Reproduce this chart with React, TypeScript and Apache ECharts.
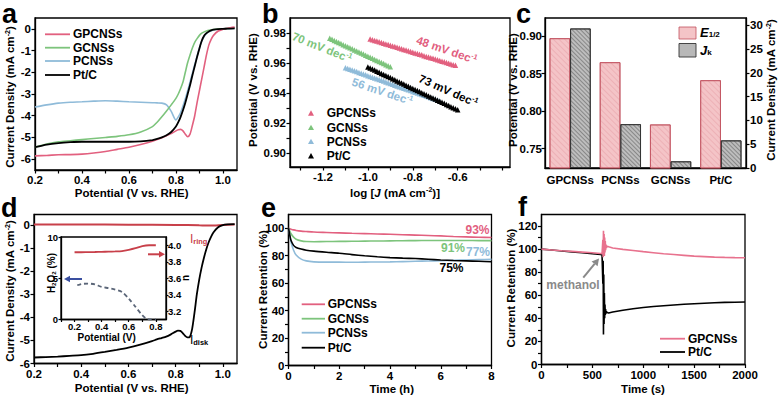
import React, { useEffect, useRef } from "react";
import * as echarts from "echarts";

const FONT = '"Liberation Sans", Arial, Helvetica, sans-serif';
const PINK = "#e2607f";
const GREEN = "#7dc47c";
const BLUE = "#8fbbd9";
const BLACK = "#000000";
const RED = "#c8404a";

// ---------- panel a: LSV ----------
const aPotential = [0.20,0.25,0.30,0.35,0.40,0.45,0.50,0.55,0.60,0.65,0.70,0.72,0.74,0.76,0.78,0.80,0.81,0.82,0.83,0.84,0.85,0.86,0.87,0.88,0.89,0.90,0.91,0.92,0.93,0.94,0.95,0.96,0.98,1.00,1.02,1.05];
const aGPCNSs = [-5.85,-5.83,-5.80,-5.79,-5.77,-5.72,-5.65,-5.55,-5.45,-5.33,-5.18,-5.10,-5.02,-4.92,-4.82,-4.70,-4.65,-4.63,-4.70,-4.85,-4.97,-4.85,-4.45,-4.00,-3.40,-2.85,-2.30,-1.75,-1.20,-0.75,-0.48,-0.30,-0.10,-0.02,0.03,0.08];
const aGCNSs = [-5.45,-5.30,-5.20,-5.15,-5.10,-5.05,-5.00,-4.95,-4.88,-4.75,-4.50,-4.30,-4.05,-3.78,-3.50,-3.20,-3.00,-2.75,-2.45,-2.00,-1.55,-1.20,-0.88,-0.62,-0.45,-0.30,-0.20,-0.14,-0.10,-0.07,-0.05,-0.03,-0.01,0.00,0.02,0.05];
const aPCNSs = [-3.60,-3.50,-3.42,-3.38,-3.36,-3.33,-3.31,-3.33,-3.36,-3.38,-3.40,-3.41,-3.42,-3.50,-3.80,-4.20,-4.05,-3.85,-3.55,-3.22,-2.85,-2.45,-2.05,-1.65,-1.25,-0.88,-0.56,-0.35,-0.22,-0.14,-0.09,-0.05,-0.02,0.00,0.01,0.02];
const aPtC = [-5.45,-5.33,-5.26,-5.22,-5.20,-5.20,-5.20,-5.20,-5.20,-5.18,-5.12,-5.07,-5.00,-4.90,-4.75,-4.50,-4.30,-4.05,-3.75,-3.40,-3.00,-2.60,-2.15,-1.72,-1.30,-0.90,-0.55,-0.32,-0.20,-0.12,-0.07,-0.04,-0.01,0.00,0.01,0.02];

// ---------- panel b: Tafel ----------
const bLogJ_GPCNSs = [-0.99,-0.98,-0.97,-0.96,-0.95,-0.94,-0.93,-0.92,-0.91,-0.90,-0.89,-0.88,-0.87,-0.86,-0.85,-0.84,-0.83,-0.82,-0.81,-0.80,-0.79,-0.78,-0.77,-0.76,-0.75,-0.74,-0.73,-0.72,-0.71,-0.70,-0.69,-0.68,-0.67,-0.66,-0.65,-0.64,-0.63,-0.62,-0.61];
const bE_GPCNSs = [0.9760,0.9756,0.9751,0.9747,0.9742,0.9737,0.9733,0.9728,0.9724,0.9719,0.9714,0.9710,0.9705,0.9701,0.9696,0.9691,0.9687,0.9682,0.9678,0.9673,0.9668,0.9664,0.9659,0.9655,0.9650,0.9645,0.9641,0.9636,0.9632,0.9627,0.9622,0.9618,0.9613,0.9609,0.9604,0.9599,0.9595,0.9590,0.9586];
const bLogJ_GCNSs = [-1.17,-1.16,-1.15,-1.14,-1.13,-1.12,-1.11,-1.10,-1.09,-1.08,-1.07,-1.06,-1.05,-1.04,-1.03,-1.02,-1.01,-1.00,-0.99,-0.98,-0.97,-0.96,-0.95,-0.94,-0.93,-0.92,-0.91,-0.90];
const bE_GCNSs = [0.9765,0.9758,0.9751,0.9744,0.9737,0.9730,0.9723,0.9716,0.9709,0.9702,0.9695,0.9688,0.9681,0.9674,0.9667,0.9660,0.9653,0.9646,0.9639,0.9632,0.9625,0.9618,0.9611,0.9604,0.9597,0.9590,0.9583,0.9576];
const bLogJ_PCNSs = [-1.10,-1.09,-1.08,-1.07,-1.06,-1.05,-1.04,-1.03,-1.02,-1.01,-1.00,-0.99,-0.98,-0.97,-0.96,-0.95,-0.94,-0.93,-0.92,-0.91,-0.90,-0.89,-0.88,-0.87,-0.86,-0.85,-0.84,-0.83,-0.82,-0.81,-0.80,-0.79,-0.78,-0.77,-0.76,-0.75,-0.74,-0.73,-0.72,-0.71,-0.70,-0.69,-0.68];
const bE_PCNSs = [0.9570,0.9565,0.9559,0.9554,0.9549,0.9544,0.9538,0.9533,0.9528,0.9523,0.9517,0.9512,0.9507,0.9502,0.9496,0.9491,0.9486,0.9481,0.9475,0.9470,0.9465,0.9460,0.9454,0.9449,0.9444,0.9439,0.9433,0.9428,0.9423,0.9418,0.9412,0.9407,0.9402,0.9397,0.9391,0.9386,0.9381,0.9376,0.9370,0.9365,0.9360,0.9355,0.9349];
const bLogJ_PtC = [-1.00,-0.99,-0.98,-0.97,-0.96,-0.95,-0.94,-0.93,-0.92,-0.91,-0.90,-0.89,-0.88,-0.87,-0.86,-0.85,-0.84,-0.83,-0.82,-0.81,-0.80,-0.79,-0.78,-0.77,-0.76,-0.75,-0.74,-0.73,-0.72,-0.71,-0.70,-0.69,-0.68,-0.67,-0.66,-0.65,-0.64,-0.63,-0.62,-0.61,-0.60];
const bE_PtC = [0.9575,0.9568,0.9561,0.9554,0.9546,0.9539,0.9532,0.9525,0.9518,0.9511,0.9504,0.9496,0.9489,0.9482,0.9475,0.9468,0.9461,0.9454,0.9447,0.9439,0.9432,0.9425,0.9418,0.9411,0.9404,0.9397,0.9390,0.9382,0.9375,0.9368,0.9361,0.9354,0.9347,0.9340,0.9333,0.9325,0.9318,0.9311,0.9304,0.9297,0.9290];

// ---------- panel c: bars ----------
const cCategories = ["GPCNSs", "PCNSs", "GCNSs", "Pt/C"];
const cE12 = [0.897, 0.865, 0.782, 0.841];
const cJk = [29.3, 9.2, 1.4, 5.8];

// ---------- panel d: RRDE ----------
const dDisk = [-5.74,-5.72,-5.70,-5.67,-5.64,-5.58,-5.50,-5.41,-5.31,-5.18,-5.03,-4.96,-4.90,-4.84,-4.74,-4.62,-4.58,-4.59,-4.68,-4.80,-4.87,-4.85,-4.50,-3.80,-3.00,-2.37,-1.85,-1.42,-1.05,-0.75,-0.52,-0.33,-0.10,-0.01,0.02,0.03];
const dRingPotential = [0.2, 0.4, 0.6, 0.8, 0.9, 0.95, 1.0, 1.05];
const dRing = [0.02, 0.02, 0.01, 0.0, -0.02, -0.03, 0.0, 0.02];
const insetNPotential = [0.2,0.25,0.3,0.35,0.4,0.45,0.5,0.55,0.6,0.65,0.7,0.75,0.8];
const insetN = [3.915,3.915,3.917,3.918,3.92,3.922,3.925,3.93,3.945,3.965,3.99,4.0,4.0];
const insetH2O2Potential = [0.22,0.25,0.3,0.35,0.4,0.45,0.5,0.55,0.6,0.65,0.7,0.73,0.76,0.8];
const insetH2O2 = [4.15,4.3,4.36,4.25,3.95,3.8,3.63,3.34,2.54,1.53,0.52,0.1,0.0,0.0];

// ---------- panel e: stability ----------
const eTime = [0,0.05,0.1,0.2,0.3,0.5,0.7,1,1.5,2,2.5,3,3.5,4,4.5,5,5.5,6,6.5,7,7.5,8];
const eGPCNSs = [100,99.6,99.3,98.8,98.4,97.9,97.6,97.2,96.9,96.6,96.3,96.1,95.8,95.6,95.3,95.0,94.7,94.4,94.0,93.7,93.4,93.2];
const eGCNSs = [100,98,96,93.5,92,90.8,90.3,90.2,90.3,90.4,90.5,90.6,90.7,90.8,90.9,91.0,91.1,91.1,91.1,91.1,91.0,91.0];
const ePCNSs = [100,95,90,84,80.5,77.5,76.2,75.5,75.3,75.3,75.2,75.3,75.4,75.5,75.7,75.9,76.1,76.3,76.6,76.9,77.1,77.3];
const ePtC = [100,95,91,87.5,86,84.8,84,83.3,82.5,81.8,80.8,79.9,79.2,78.6,78.2,77.9,77.4,76.9,76.5,76.2,75.9,75.6];

// ---------- panel f: methanol ----------
const fTime = [0,100,200,300,400,500,580,595,600,603,606,609,612,615,618,621,624,627,630,634,638,645,660,700,800,900,1000,1100,1200,1300,1400,1500,1600,1700,1800,1900,2000];
const fGPCNSs = [100,99.3,98.6,98,97.4,96.8,96.2,96,96,108,93,116,95,113,94,110,97,107,99,104,101,102.5,102,101,99.8,98.8,97.8,96.9,96,95.3,94.6,93.9,93.5,93.1,92.8,92.6,92.5];
const fPtC = [100,99.2,98.4,97.6,96.8,96,95.4,95,94.8,70,90,26,78,35,62,40,52,43,48,44,46,45,44.6,45.5,47,48.3,49.4,50.2,50.9,51.6,52.2,52.7,53.1,53.5,53.8,54,54.2];

// tick/label values
const aXLabels = [0.2, 0.4, 0.6, 0.8, 1.0];
const aXTicks = [0.2, 0.3, 0.4, 0.5, 0.6, 0.7, 0.8, 0.9, 1.0];
const aYLabels = [-6, -5, -4, -3, -2, -1, 0];
const bXLabels = [-1.2, -1.0, -0.8, -0.6];
const bXTicks = [-1.3, -1.2, -1.1, -1.0, -0.9, -0.8, -0.7, -0.6, -0.5, -0.4];
const bYLabels = [0.9, 0.92, 0.94, 0.96, 0.98];
const bYTicks = [0.9, 0.91, 0.92, 0.93, 0.94, 0.95, 0.96, 0.97, 0.98];
const cLeftLabels = [0.75, 0.8, 0.85, 0.9];
const cRightLabels = [0, 5, 10, 15, 20, 25, 30];
const insetXLabels = [0.2, 0.4, 0.6, 0.8];
const insetXTicks = [0.1, 0.2, 0.3, 0.4, 0.5, 0.6, 0.7, 0.8];
const insetLeftLabels = [0, 5, 10];
const insetRightLabels = [3.2, 3.4, 3.6, 3.8, 4.0];
const eXLabels = [0, 2, 4, 6, 8];
const eXTicks = [0, 1, 2, 3, 4, 5, 6, 7, 8];
const eYLabels = [0, 20, 40, 60, 80, 100];
const eYTicks = [0, 10, 20, 30, 40, 50, 60, 70, 80, 90, 100];
const fXLabels = [0, 500, 1000, 1500, 2000];
const fXTicks = [0, 250, 500, 750, 1000, 1250, 1500, 1750, 2000];
const fYLabels = [0, 20, 40, 60, 80, 100, 120];
const fYTicks = [0, 10, 20, 30, 40, 50, 60, 70, 80, 90, 100, 110, 120];

const zip = (xs: number[], ys: number[]) => xs.map((x, i) => [x, ys[i]]);

function valAxis(
  kind: "x" | "y",
  gridIndex: number,
  min: number,
  max: number,
  labels: number[],
  ticks: number[],
  fmt: (v: number) => string,
  opts: any = {}
) {
  const size = opts.size || 11.5;
  return {
    type: "value",
    gridIndex,
    min,
    max,
    position: opts.position || (kind === "x" ? "bottom" : "left"),
    axisLine: { show: true, onZero: false, lineStyle: { color: "#000", width: 1.3 } },
    axisTick: {
      show: true,
      inside: false,
      length: opts.tickLen || 3.5,
      customValues: ticks,
      lineStyle: { color: "#000", width: 1.2 },
    },
    axisLabel: {
      show: true,
      customValues: labels,
      formatter: (v: number) => fmt(v),
      color: "#000",
      fontFamily: FONT,
      fontWeight: "bold",
      fontSize: size,
      margin: opts.margin ?? 4,
    },
    splitLine: { show: false },
    minorTick: { show: false },
    minorSplitLine: { show: false },
  };
}

const f1 = (v: number) => v.toFixed(1);
const f2 = (v: number) => v.toFixed(2);
const f0 = (v: number) => String(Math.round(v));

function txt(x: number, y: number, s: string, o: any = {}) {
  const size = o.size || 11.5;
  const color = o.color || "#000";
  const align = o.align || "center";
  return {
    type: "text",
    x,
    y,
    rotation: o.rotation || 0,
    silent: true,
    z: 100,
    style: {
      text: s,
      fill: color,
      fontFamily: FONT,
      fontWeight: o.weight || "bold",
      fontStyle: o.italic ? "italic" : "normal",
      fontSize: size,
      align,
      textAlign: align,
      verticalAlign: "middle",
      textVerticalAlign: "middle",
      rich: {
        sup: { fontSize: size * 0.62, fontFamily: FONT, fontWeight: "bold", fill: color, color, verticalAlign: "top", lineHeight: size * 0.62 },
        sub: { fontSize: size * 0.62, fontFamily: FONT, fontWeight: "bold", fill: color, color, verticalAlign: "bottom", lineHeight: size * 0.62 },
        it: { fontSize: size, fontFamily: FONT, fontWeight: "bold", fontStyle: "italic", fill: color, color },
      },
    },
  };
}

function hline(x1: number, x2: number, y: number, color: string, w = 1.8) {
  return { type: "line", silent: true, z: 100, shape: { x1, y1: y, x2, y2: y }, style: { stroke: color, lineWidth: w } };
}

function arrow(x1: number, y1: number, x2: number, y2: number, color: string, w = 2, head = 6) {
  const ang = Math.atan2(y2 - y1, x2 - x1);
  const bx = x2 - head * Math.cos(ang);
  const by = y2 - head * Math.sin(ang);
  const px = -Math.sin(ang) * head * 0.55;
  const py = Math.cos(ang) * head * 0.55;
  return [
    { type: "line", silent: true, z: 100, shape: { x1, y1, x2: bx, y2: by }, style: { stroke: color, lineWidth: w } },
    {
      type: "polygon",
      silent: true,
      z: 100,
      shape: { points: [[x2, y2], [bx + px, by + py], [bx - px, by - py]] },
      style: { fill: color },
    },
  ];
}

function tri(x: number, y: number, color: string, s = 3) {
  return {
    type: "polygon",
    silent: true,
    z: 100,
    shape: { points: [[x, y - s], [x + s, y + s * 0.8], [x - s, y + s * 0.8]] },
    style: { fill: color },
  };
}

const lineSeries = (name: string, xi: number, yi: number, data: number[][], color: string, extra: any = {}) => ({
  type: "line",
  name,
  xAxisIndex: xi,
  yAxisIndex: yi,
  data,
  showSymbol: false,
  symbol: "none",
  smooth: extra.smooth ?? 0.25,
  clip: true,
  lineStyle: { color, width: extra.width || 1.6, type: extra.type || "solid" },
  itemStyle: { color },
  z: extra.z || 2,
});

const scatterSeries = (name: string, data: number[][], color: string) => ({
  type: "scatter",
  name,
  xAxisIndex: 1,
  yAxisIndex: 1,
  data,
  symbol: "triangle",
  symbolSize: 5.5,
  itemStyle: { color, opacity: 1 },
});

export default function App() {
  const ref = useRef<HTMLDivElement>(null);
  useEffect(() => {
    if (!ref.current) return;
    const chart = echarts.init(ref.current, null, { renderer: "svg" });

    const gridBase = { show: true, borderColor: "#000", borderWidth: 1.3, backgroundColor: "transparent", containLabel: false, outerBoundsMode: "none" };
    const grids = [
      { ...gridBase, left: 35, top: 18, width: 202, height: 152 }, // a
      { ...gridBase, left: 290, top: 18, width: 220, height: 149 }, // b
      { ...gridBase, left: 545, top: 18, width: 201, height: 150 }, // c
      { ...gridBase, left: 34, top: 214.5, width: 203, height: 149 }, // d
      { ...gridBase, left: 61, top: 237, width: 105, height: 82.5, backgroundColor: "#fff" }, // inset
      { ...gridBase, left: 288.5, top: 214.5, width: 203, height: 151 }, // e
      { ...gridBase, left: 541.5, top: 214.5, width: 203.5, height: 150 }, // f
    ];

    const xAxes: any[] = [
      valAxis("x", 0, 0.2, 1.06, aXLabels, aXTicks, f1),
      valAxis("x", 1, -1.347, -0.367, bXLabels, bXTicks, f1),
      {
        type: "category",
        gridIndex: 2,
        data: cCategories,
        position: "bottom",
        axisLine: { show: true, onZero: false, lineStyle: { color: "#000", width: 1.3 } },
        axisTick: { show: false },
        axisLabel: { interval: 0, color: "#000", fontFamily: FONT, fontWeight: "bold", fontSize: 11.5, margin: 6 },
        splitLine: { show: false },
      },
      valAxis("x", 3, 0.2, 1.06, aXLabels, aXTicks, f1),
      valAxis("x", 4, 0.1, 0.875, insetXLabels, insetXTicks, f1, { size: 9.5, margin: 1.5, tickLen: 2.5 }),
      valAxis("x", 5, 0, 8, eXLabels, eXTicks, f0),
      valAxis("x", 6, 0, 2000, fXLabels, fXTicks, f0),
    ];

    const yAxes: any[] = [
      valAxis("y", 0, -6.5, 0.5, aYLabels, aYLabels, f0),
      valAxis("y", 1, 0.891, 0.99, bYLabels, bYTicks, f2),
      valAxis("y", 2, 0.724, 0.924, cLeftLabels, cLeftLabels, f2, { margin: 3 }),
      valAxis("y", 2, 0, 31.5, cRightLabels, cRightLabels, f0, { position: "right" }),
      valAxis("y", 3, -6, 0.45, aYLabels, aYLabels, f0),
      valAxis("y", 4, 0, 10, insetLeftLabels, insetLeftLabels, f0, { size: 9.5, margin: 3, tickLen: 2.5 }),
      valAxis("y", 4, 3.1, 4.1, insetRightLabels, insetRightLabels, f1, { size: 9.5, margin: 2, tickLen: 2.5, position: "right" }),
      valAxis("y", 5, 0, 110, eYLabels, eYTicks, f0),
      valAxis("y", 6, 0, 130, fYLabels, fYTicks, f0),
    ];

    const series: any[] = [
      // a
      lineSeries("PCNSs", 0, 0, zip(aPotential, aPCNSs), BLUE),
      lineSeries("GCNSs", 0, 0, zip(aPotential, aGCNSs), GREEN),
      lineSeries("GPCNSs", 0, 0, zip(aPotential, aGPCNSs), PINK),
      lineSeries("Pt/C", 0, 0, zip(aPotential, aPtC), BLACK, { width: 1.8 }),
      // b
      scatterSeries("GPCNSs", zip(bLogJ_GPCNSs, bE_GPCNSs), PINK),
      scatterSeries("GCNSs", zip(bLogJ_GCNSs, bE_GCNSs), GREEN),
      scatterSeries("PCNSs", zip(bLogJ_PCNSs, bE_PCNSs), BLUE),
      scatterSeries("Pt/C", zip(bLogJ_PtC, bE_PtC), BLACK),
      // c
      {
        type: "bar",
        name: "E1/2",
        xAxisIndex: 2,
        yAxisIndex: 2,
        data: cE12,
        barGap: "0%",
        barCategoryGap: "18%",
        clip: true,
        itemStyle: {
          color: "#f4c4c7",
          borderColor: "#c2505e",
          borderWidth: 0.8,
          decal: { symbol: "rect", symbolSize: 1, rotation: Math.PI / 4, color: "rgba(215,120,130,0.25)", dashArrayX: [1, 0], dashArrayY: [1, 3] },
        },
      },
      {
        type: "bar",
        name: "Jk",
        xAxisIndex: 2,
        yAxisIndex: 3,
        data: cJk,
        barGap: "0%",
        barCategoryGap: "18%",
        clip: true,
        itemStyle: {
          color: "#bdbdbd",
          borderColor: "#333",
          borderWidth: 0.9,
          decal: { symbol: "rect", symbolSize: 1, rotation: Math.PI / 4, color: "rgba(70,70,70,0.45)", dashArrayX: [1, 0], dashArrayY: [1, 2] },
        },
      },
      // d
      lineSeries("ring", 3, 4, zip(dRingPotential, dRing), RED, { width: 2 }),
      lineSeries("disk", 3, 4, zip(aPotential, dDisk), BLACK, { width: 1.8 }),
      // inset
      lineSeries("n", 4, 6, zip(insetNPotential, insetN), RED, { width: 1.8, z: 5 }),
      lineSeries("H2O2", 4, 5, zip(insetH2O2Potential, insetH2O2), "#5b6678", { width: 1.8, type: [4, 3], z: 5 }),
      // e
      lineSeries("GPCNSs", 5, 7, zip(eTime, eGPCNSs), PINK),
      lineSeries("GCNSs", 5, 7, zip(eTime, eGCNSs), GREEN),
      lineSeries("PCNSs", 5, 7, zip(eTime, ePCNSs), BLUE),
      lineSeries("Pt/C", 5, 7, zip(eTime, ePtC), BLACK),
      // f
      lineSeries("GPCNSs", 6, 8, zip(fTime, fGPCNSs), "#e8728e", { smooth: false, z: 3 }),
      lineSeries("Pt/C", 6, 8, zip(fTime, fPtC), BLACK, { smooth: false, z: 2 }),
    ];

    const R = Math.PI / 2;
    const L = 27;
    const graphics: any[] = [
      // panel letters
      txt(2, 13.5, "a", { size: L, align: "left" }),
      txt(262, 13.5, "b", { size: L, align: "left" }),
      txt(516, 13.5, "c", { size: L, align: "left" }),
      txt(1, 208, "d", { size: L, align: "left" }),
      txt(261, 208, "e", { size: L, align: "left" }),
      txt(518, 207, "f", { size: L, align: "left" }),
      // axis titles
      txt(10, 97, "Current Density (mA cm{sup|-2})", { rotation: R }),
      txt(131.7, 192.5, "Potential (V vs. RHE)"),
      txt(252.5, 90, "Potential (V vs. RHE)", { rotation: R }),
      txt(395, 192.5, "log [{it|J} (mA cm{sup|-2})]"),
      txt(513, 90, "Potential (V vs. RHE)", { rotation: R }),
      txt(771, 90, "Current Density (mA cm{sup|-2})", { rotation: R }),
      txt(10, 291, "Current Density (mA cm{sup|-2})", { rotation: R }),
      txt(131.7, 387.5, "Potential (V vs. RHE)"),
      txt(262.5, 289.5, "Current Retention (%)", { rotation: R }),
      txt(391.7, 388.5, "Time (h)"),
      txt(511, 288, "Current Retention (%)", { rotation: R }),
      txt(643, 388.5, "Time (s)"),
      // inset titles
      txt(51, 273, "H{sub|2}O{sub|2} (%)", { rotation: R, size: 10 }),
      txt(185, 278, "n", { rotation: R, size: 10 }),
      txt(106.7, 337.5, "Potential (V)", { size: 10 }),
      // legend a
      hline(45, 70, 34.3, PINK), txt(73, 34.3, "GPCNSs", { align: "left", size: 12 }),
      hline(45, 70, 47.7, GREEN), txt(73, 47.7, "GCNSs", { align: "left", size: 12 }),
      hline(45, 70, 61, BLUE), txt(73, 61, "PCNSs", { align: "left", size: 12 }),
      hline(45, 70, 75, BLACK), txt(73, 75, "Pt/C", { align: "left", size: 12 }),
      // legend b
      tri(311, 113.3, PINK), txt(326.7, 113.3, "GPCNSs", { align: "left", size: 12 }),
      tri(311, 127.7, GREEN), txt(326.7, 127.7, "GCNSs", { align: "left", size: 12 }),
      tri(311, 141.7, BLUE), txt(326.7, 141.7, "PCNSs", { align: "left", size: 12 }),
      tri(311, 156, BLACK), txt(326.7, 156, "Pt/C", { align: "left", size: 12 }),
      // tafel slopes
      txt(446.7, 50, "48 mV dec{sup|-1}", { color: PINK, rotation: -0.33, size: 11.5 }),
      txt(322, 47.5, "70 mV dec{sup|-1}", { color: GREEN, rotation: -0.38, size: 11.5 }),
      txt(382.3, 91.5, "56 mV dec{sup|-1}", { color: BLUE, rotation: -0.32, size: 11.5 }),
      txt(448.3, 90.7, "73 mV dec{sup|-1}", { color: BLACK, rotation: -0.42, size: 11.5 }),
      // legend c
      { type: "rect", silent: true, z: 100, shape: { x: 679, y: 27, width: 17, height: 12 }, style: { fill: "#f4c4c7", stroke: "#c2505e", lineWidth: 0.8 } },
      { type: "rect", silent: true, z: 100, shape: { x: 679, y: 43.5, width: 17, height: 13.5 }, style: { fill: "#b8b8b8", stroke: "#333", lineWidth: 0.9 } },
      txt(700, 32, "{it|E}{sub|1/2}", { align: "left", size: 13 }),
      txt(700, 50, "{it|J}{sub|k}", { align: "left", size: 13 }),
      // panel d annotations
      txt(190, 238.5, "I{sub|ring}", { align: "left", color: RED, size: 12, weight: "normal" }),
      txt(190, 339.5, "I{sub|disk}", { align: "left", size: 12, weight: "normal" }),
      ...arrow(148, 254.3, 165, 254.3, RED, 2, 6),
      ...arrow(82, 279, 64, 279, "#3a4fa0", 2, 6),
      // legend e
      hline(301.7, 325, 304.3, PINK), txt(327.7, 304.3, "GPCNSs", { align: "left", size: 12 }),
      hline(301.7, 325, 318.7, GREEN), txt(327.7, 318.7, "GCNSs", { align: "left", size: 12 }),
      hline(301.7, 325, 332.7, BLUE), txt(327.7, 332.7, "PCNSs", { align: "left", size: 12 }),
      hline(301.7, 325, 347.7, BLACK), txt(327.7, 347.7, "Pt/C", { align: "left", size: 12 }),
      // e percentages
      txt(477.5, 230, "93%", { color: PINK, size: 12 }),
      txt(453, 247.7, "91%", { color: GREEN, size: 12 }),
      txt(478, 252.3, "77%", { color: BLUE, size: 12 }),
      txt(451.5, 268, "75%", { color: BLACK, size: 12 }),
      // legend f
      hline(660, 685, 338.7, "#e8728e"), txt(688, 338.7, "GPCNSs", { align: "left", size: 12 }),
      hline(660, 685, 352, BLACK), txt(688, 352, "Pt/C", { align: "left", size: 12 }),
      // methanol annotation
      txt(573, 285, "methanol", { color: "#8a8a8a", size: 12 }),
      ...arrow(583.3, 277.7, 599, 258.5, "#8a8a8a", 2, 7),
    ];

    chart.setOption({
      animation: false,
      backgroundColor: "#fff",
      textStyle: { fontFamily: FONT },
      grid: grids,
      xAxis: xAxes,
      yAxis: yAxes,
      series,
      graphic: { elements: graphics },
    });
    return () => chart.dispose();
  }, []);
  return <div ref={ref} style={{ position: "absolute", left: 0, top: 0, width: 779, height: 396, background: "#fff" }} />;
}
